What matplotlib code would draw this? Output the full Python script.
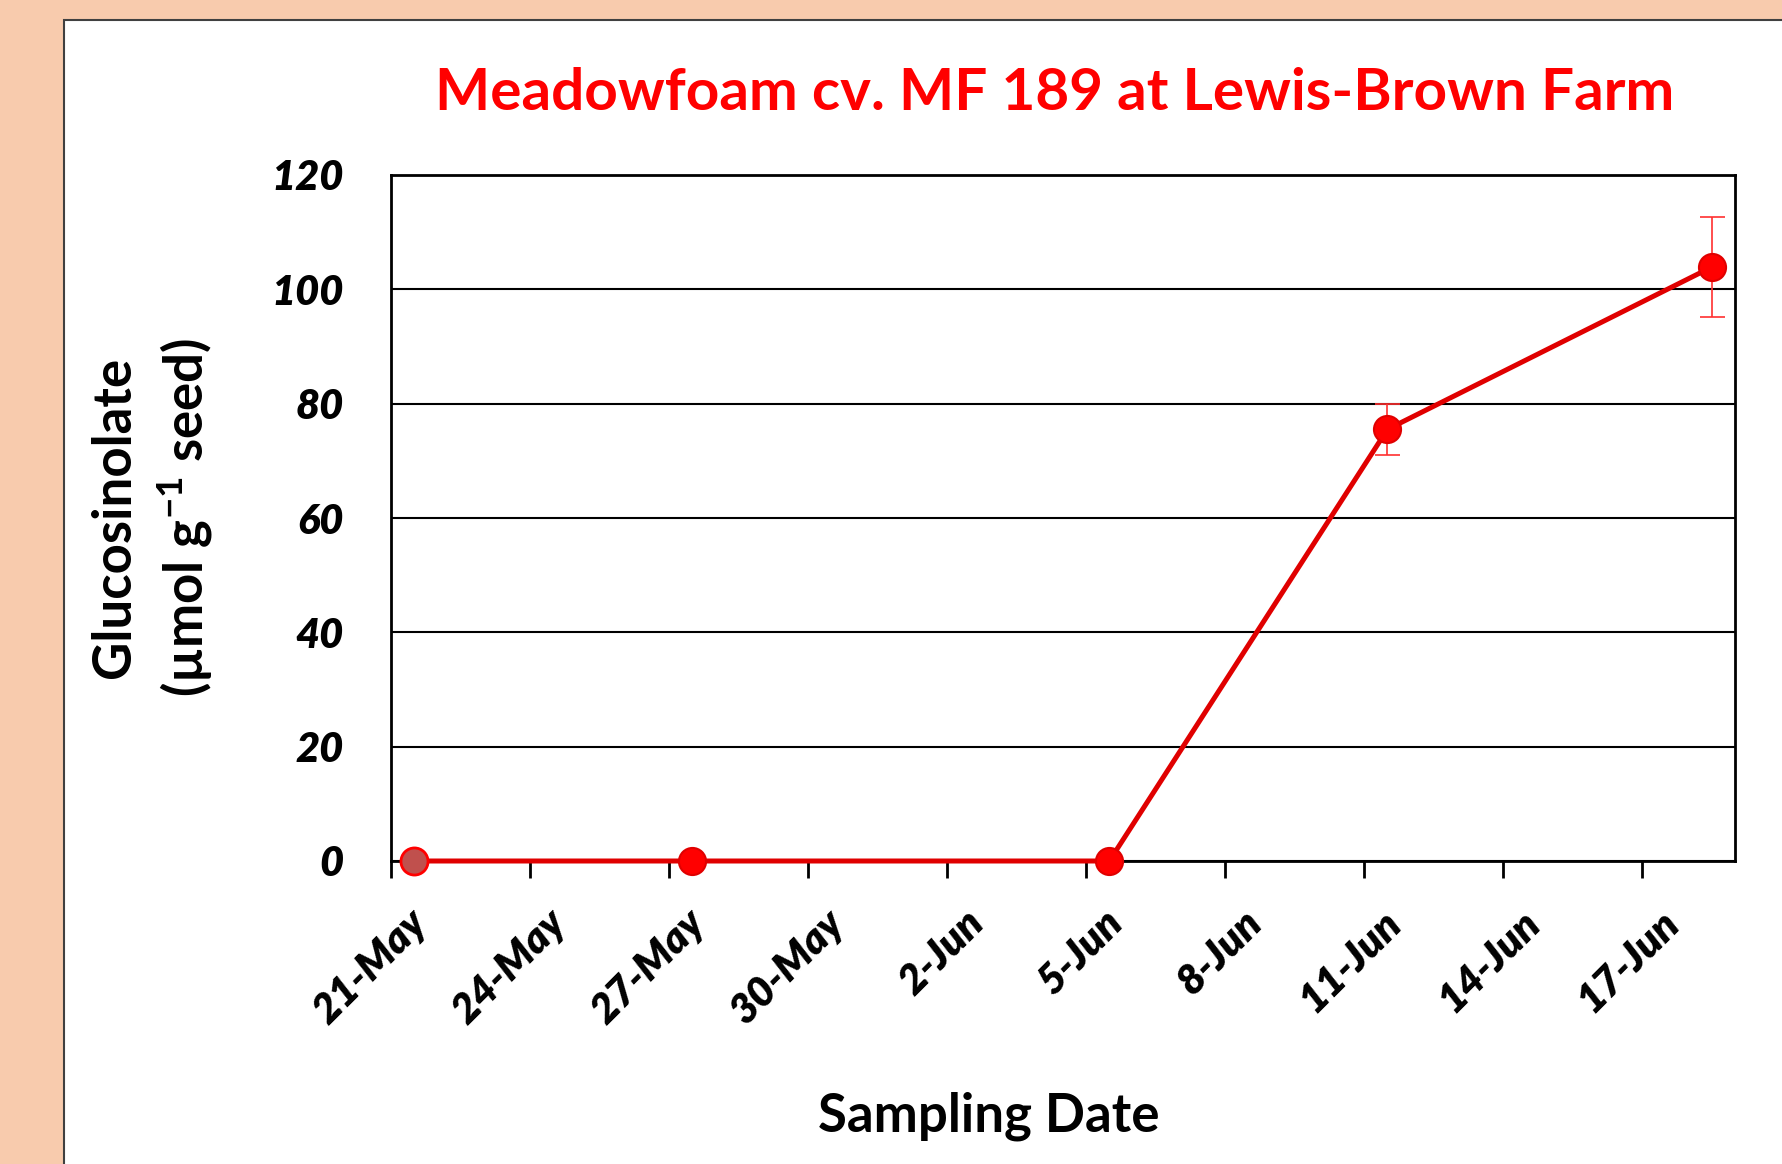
import numpy as np
import pandas as pd
import matplotlib
matplotlib.use("Agg")
import matplotlib.pyplot as plt
import matplotlib.dates as mdates
from matplotlib.patches import Rectangle
import matplotlib.transforms as mtransforms

plt.rcParams['font.family'] = ['Lato', 'DejaVu Sans']
plt.rcParams['mathtext.fontset'] = 'custom'
plt.rcParams['mathtext.rm'] = 'Lato'
plt.rcParams['mathtext.bf'] = 'Lato:bold'

# sampling dates and glucosinolate content (umol g-1 seed)
dates = ["2013-05-21", "2013-05-27", "2013-06-05", "2013-06-11", "2013-06-18"]
gluc = [0.0, 0.0, 0.0, 75.5, 103.9]
gluc_err = [0.0, 0.0, 0.0, 4.4, 8.7]
tick_dates = pd.date_range("2013-05-21", "2013-06-17", freq="3D")
tick_labels = [f"{d.day}-{d.strftime('%b')}" for d in tick_dates]
x_min, x_max = "2013-05-21", "2013-06-19"
y_ticks = [0, 20, 40, 60, 80, 100, 120]

RED = '#E00000'

fig = plt.figure(figsize=(17.82, 11.64), dpi=100, facecolor='#F8CBAD')
# white chart area on the peach slide
fig.patches.append(Rectangle((64 / 1782, -0.01), 1.0, 1 - 20 / 1164 + 0.01,
                             transform=fig.transFigure, facecolor='white',
                             edgecolor='#404040', linewidth=1.5, zorder=-5))

ax = fig.add_axes([391 / 1782, 1 - 861 / 1164, (1735 - 391) / 1782, (861 - 175) / 1164])
ax.set_zorder(2)
ax.set_facecolor('white')

# Excel date axis with points between tick marks -> half-day shift
x = mdates.date2num(pd.to_datetime(dates)) + 0.5
ax.plot(x, gluc, color=RED, lw=3.6, zorder=3, clip_on=False)
ax.errorbar(x, gluc, yerr=gluc_err, fmt='none', ecolor='#FF3030', elinewidth=1.2,
            capsize=9, capthick=1.2, zorder=2)
ax.plot(x[1:], gluc[1:], 'o', ms=19.5, mfc='#FF0000', mec=RED, mew=1.5, zorder=4, clip_on=False)
ax.plot(x[:1], gluc[:1], 'o', ms=19.5, mfc='#C0504D', mec='#FF0000', mew=2, zorder=4, clip_on=False)

ax.set_xlim(mdates.date2num(pd.to_datetime(x_min)), mdates.date2num(pd.to_datetime(x_max)))
ax.set_ylim(0, 120)
ax.set_yticks(y_ticks)
ax.set_yticklabels([str(v) for v in y_ticks], fontsize=30, fontweight='heavy', style='italic')
ax.tick_params(axis='y', length=0, pad=34)
ax.yaxis.grid(True, color='black', lw=1.5)
ax.set_axisbelow(True)

ax.set_xticks(mdates.date2num(tick_dates))
ax.set_xticklabels(tick_labels, fontsize=30, fontweight='heavy', style='italic',
                   rotation=45, ha='right', va='top', rotation_mode='anchor')
ax.tick_params(axis='x', length=12, width=2, direction='out', pad=14)
# nudge the slanted labels (tick_params would reset this, so do it after)
offset = mtransforms.ScaledTranslation(17 / 100, -6 / 100, fig.dpi_scale_trans)
for lab in ax.get_xticklabels():
    lab.set_transform(lab.get_transform() + offset)

for s in ax.spines.values():
    s.set_linewidth(2)
    s.set_color('black')

fig.text(0.592, 1 - 93 / 1164, "Meadowfoam cv. MF 189 at Lewis-Brown Farm",
         color='#FF0000', fontsize=42, fontweight='bold', ha='center', va='center')
fig.text(0.555, 1 - 1116 / 1164, "Sampling Date", fontsize=38, fontweight='bold',
         ha='center', va='center')
fig.text(114 / 1782, 1 - 517 / 1164, "Glucosinolate", fontsize=38, fontweight='bold',
         rotation=90, ha='center', va='center')
fig.text(185 / 1782, 1 - 517 / 1164, r"(µmol g$^{\mathbf{-1}}$ seed)", fontsize=38,
         fontweight='bold', rotation=90, ha='center', va='center')

fig.savefig("out.png", dpi=100, facecolor=fig.get_facecolor())
